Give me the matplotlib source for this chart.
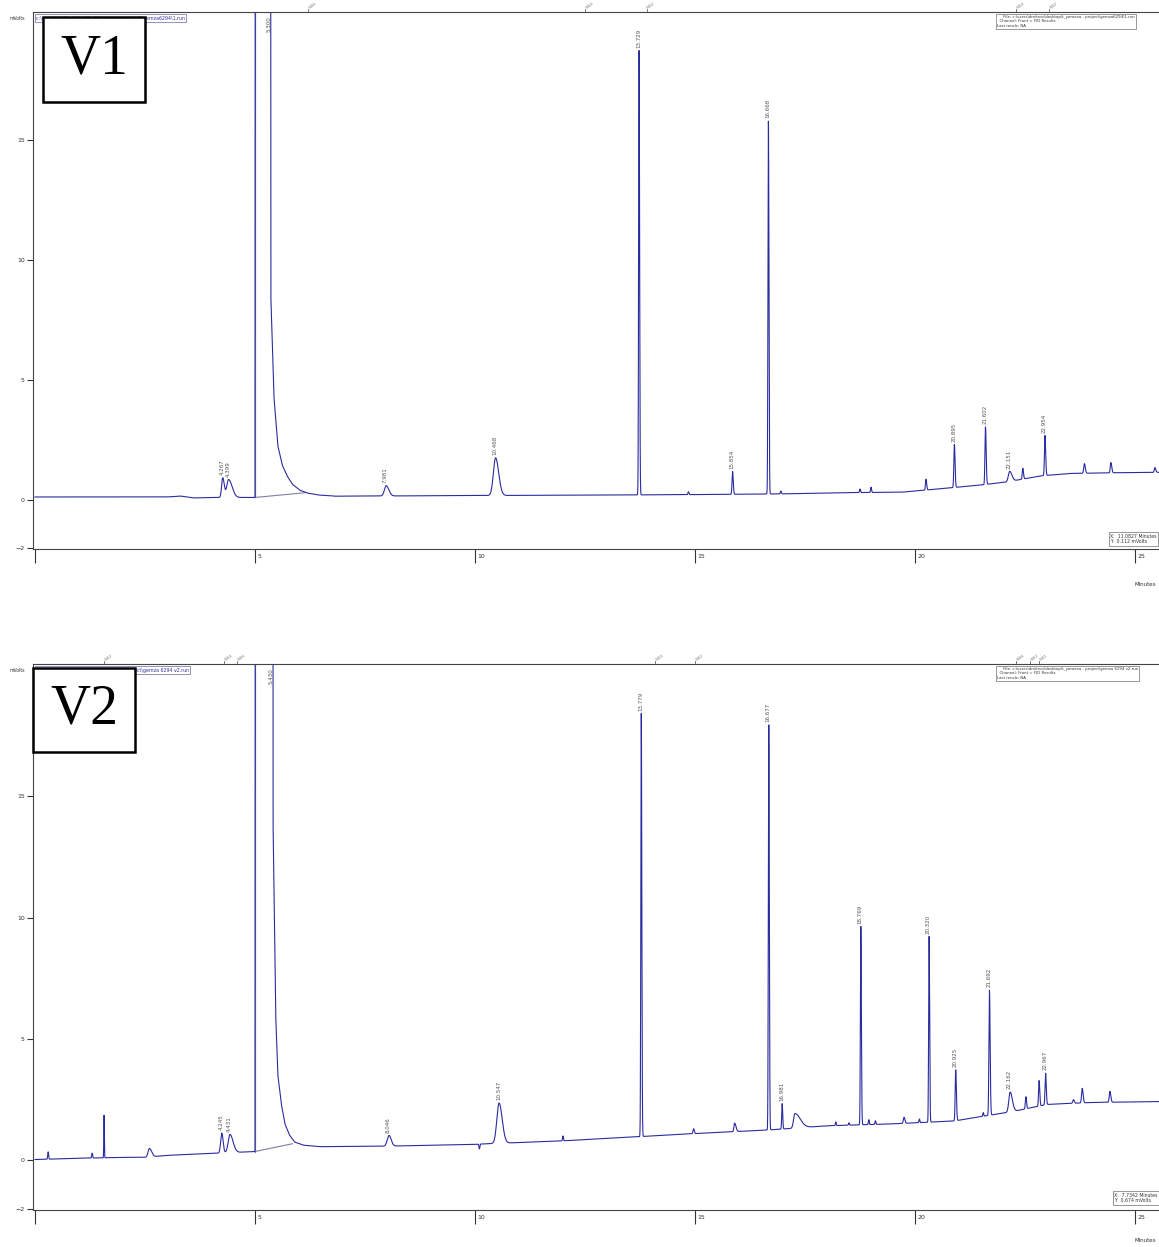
import numpy as np
import matplotlib.pyplot as plt
from matplotlib.patches import Rectangle
from matplotlib.transforms import ScaledTranslation

# ---- V1 data (minutes, mVolts) ----
base1_t = [0, 3.0, 3.3, 3.6, 4.0, 5.0, 6.5, 10, 13, 15, 17, 18.5, 19.7, 20.8, 21.5, 22.1, 22.85, 23.5, 24.5, 25.6]
base1_v = [0.12, 0.12, 0.16, 0.08, 0.1, 0.1, 0.15, 0.18, 0.2, 0.22, 0.25, 0.3, 0.32, 0.5, 0.62, 0.75, 1.0, 1.1, 1.13, 1.15]
peak1_t = [4.267, 4.399, 7.981, 10.468, 13.729, 14.85, 15.854, 16.668, 16.95, 18.75, 19.0,
           20.25, 20.895, 21.602, 22.151, 22.45, 22.954, 23.85, 24.45, 25.45]
peak1_h = [0.82, 0.75, 0.43, 1.57, 18.6, 0.12, 0.95, 15.55, 0.12, 0.15, 0.22,
           0.45, 1.8, 2.4, 0.42, 0.45, 1.67, 0.4, 0.43, 0.2]
peak1_wl = [0.025, 0.04, 0.04, 0.05, 0.01, 0.01, 0.012, 0.01, 0.01, 0.01, 0.01,
            0.012, 0.012, 0.012, 0.03, 0.012, 0.012, 0.015, 0.012, 0.012]
peak1_wr = [0.035, 0.08, 0.06, 0.07, 0.012, 0.012, 0.015, 0.012, 0.012, 0.012, 0.012,
            0.015, 0.015, 0.015, 0.05, 0.015, 0.015, 0.02, 0.02, 0.02]
label1_t = [4.267, 4.399, 7.981, 10.468, 13.729, 15.854, 16.668, 20.895, 21.602, 22.151, 22.954]
label1_txt = ["4.267", "4.399", "7.981", "10.468", "13.729", "15.854", "16.668", "20.895", "21.602", "22.151", "22.954"]
solv1_t = [5.0, 5.02, 5.35, 5.36, 5.43, 5.52, 5.62, 5.73, 5.85, 6.02, 6.2, 6.45, 6.8]
solv1_v = [0.1, 80, 80, 8.5, 4.3, 2.25, 1.45, 1.0, 0.65, 0.4, 0.28, 0.2, 0.16]
solv1_label = "5.300"
integ1_t = [5.0, 6.15]
integ1_v = [0.1, 0.3]
event1_t = [6.2, 12.5, 13.9, 22.3, 23.05]
event1_txt = ["W16", "W14", "W12", "W14", "W12"]

# ---- V2 data ----
base2_t = [0, 1, 2, 2.5, 3, 4, 5, 5.8, 6.5, 8, 10, 12, 13, 15, 16.7, 18, 19.5, 20.9, 21.5, 22.2, 23.0, 24, 25.6]
base2_v = [0.03, 0.08, 0.12, 0.12, 0.2, 0.28, 0.36, 0.62, 0.56, 0.58, 0.66, 0.8, 0.9, 1.1, 1.25, 1.42, 1.5, 1.62, 1.8, 2.0, 2.3, 2.38, 2.42]
peak2_t = [0.3, 1.3, 1.57, 2.6, 4.245, 4.431, 8.046, 10.1, 10.547, 12.0, 13.779, 14.97, 15.9,
           16.677, 16.981, 17.27, 18.2, 18.5, 18.769, 18.95, 19.1, 19.75, 20.1, 20.32, 20.925,
           21.55, 21.692, 22.162, 22.52, 22.82, 22.967, 23.6, 23.8, 24.43]
peak2_h = [0.3, 0.2, 1.75, 0.35, 0.82, 0.75, 0.44, -0.2, 1.66, 0.2, 17.5, 0.2, 0.35,
           16.75, 1.05, 0.6, 0.15, 0.1, 8.2, 0.2, 0.15, 0.25, 0.15, 7.65, 2.1,
           0.15, 5.15, 0.82, 0.5, 1.05, 1.3, 0.15, 0.6, 0.45]
peak2_wl = [0.01, 0.01, 0.006, 0.03, 0.025, 0.04, 0.04, 0.01, 0.05, 0.01, 0.01, 0.015, 0.015,
            0.01, 0.01, 0.03, 0.01, 0.01, 0.01, 0.01, 0.01, 0.015, 0.01, 0.01, 0.012,
            0.01, 0.012, 0.03, 0.012, 0.012, 0.012, 0.015, 0.015, 0.015]
peak2_wr = [0.01, 0.01, 0.006, 0.05, 0.03, 0.07, 0.05, 0.01, 0.07, 0.01, 0.012, 0.015, 0.03,
            0.012, 0.012, 0.12, 0.01, 0.01, 0.012, 0.01, 0.01, 0.02, 0.01, 0.012, 0.015,
            0.01, 0.015, 0.05, 0.015, 0.015, 0.015, 0.02, 0.02, 0.02]
label2_t = [4.245, 4.431, 8.046, 10.547, 13.779, 16.677, 16.981, 18.769, 20.32, 20.925, 21.692, 22.162, 22.967]
label2_txt = ["4.245", "4.431", "8.046", "10.547", "13.779", "16.677", "16.981", "18.769", "20.320",
              "20.925", "21.692", "22.162", "22.967"]
solv2_t = [5.0, 5.02, 5.40, 5.41, 5.47, 5.52, 5.6, 5.68, 5.78, 5.9, 6.1, 6.4]
solv2_v = [0.36, 80, 80, 14, 6, 3.5, 2.3, 1.5, 1.05, 0.75, 0.62, 0.57]
solv2_label = "5.430"
integ2_t = [5.0, 5.85]
integ2_v = [0.36, 0.68]
event2_t = [1.57, 4.3, 4.6, 14.1, 15.0, 22.3, 22.62, 22.82]
event2_txt = ["W12", "W14", "W16", "W14", "W12", "W16", "W12", "W11"]

TRACE = '#2b2ba0'
GREY = '#555555'


def make_trace(t, bt, bv, pt, ph, pwl, pwr, st, sv):
    y = np.interp(t, bt, bv)
    for c, h, wl, wr in zip(pt, ph, pwl, pwr):
        w = np.where(t < c, wl, wr)
        y = y + h * np.exp(-0.5 * ((t - c) / w) ** 2)
    m = (t >= st[0]) & (t <= st[-1])
    y[m] = np.maximum(y[m], np.interp(t[m], st, sv))
    return y


def draw_panel(ax, top, bt, bv, pt, ph, pwl, pwr, lt, ltxt, st, sv, slab, it, iv, et, etxt):
    t = np.arange(0, 25.6, 0.002)
    y = make_trace(t, bt, bv, pt, ph, pwl, pwr, st, sv)
    ax.plot(it, iv, color='#8080a0', lw=0.8)
    ax.plot([st[0], st[0]], [sv[0], top], color='#8080a8', lw=0.9)
    ax.plot(t, y, color=TRACE, lw=0.8)
    ax.set_xlim(-0.045, 25.545)
    ax.set_ylim(-2.05, top)

    for tt, txt in zip(lt, ltxt):
        i = int(np.argmin(np.abs(t - tt)))
        apex = y[max(i - 30, 0):i + 30].max()
        ax.annotate(txt, (tt, apex), xytext=(-0.5, 2), textcoords='offset points',
                    rotation=90, ha='center', va='bottom', fontsize=4, color=GREY)
    ax.annotate(slab, (st[3] - 0.05, top), xytext=(0, -3), textcoords='offset points',
                rotation=90, ha='center', va='top', fontsize=4, color=GREY)

    # event marks above the top spine
    tr = ax.get_xaxis_transform()
    for tt, txt in zip(et, etxt):
        ax.plot([tt, tt], [1.0, 1.005], transform=tr, color='#666666', lw=0.6, clip_on=False)
        ax.text(tt, 1.004, txt, transform=tr, rotation=35, fontsize=2.8, color='#777777',
                ha='left', va='bottom', clip_on=False)

    for side in ['top', 'left', 'bottom']:
        ax.spines[side].set_color('#444444')
        ax.spines[side].set_linewidth(0.8)
    ax.spines['right'].set_visible(False)

    ax.set_xticks([0, 5, 10, 15, 20, 25])
    ax.set_xticklabels(['', '5', '10', '15', '20', '25'])
    ax.tick_params(axis='x', direction='out', length=10, width=0.8, pad=-6.5,
                   labelsize=4.5, colors='#333333')
    for lab in ax.get_xticklabels():
        lab.set_horizontalalignment('left')
        lab.set_transform(lab.get_transform() + ScaledTranslation(1.5 / 72, 0, ax.figure.dpi_scale_trans))
    ax.set_yticks([-2, 0, 5, 10, 15])
    ax.tick_params(axis='y', direction='out', length=4, width=0.8, pad=2,
                   labelsize=4.5, colors='#333333')


fig = plt.figure(figsize=(11.59, 12.47), dpi=100)
W, H = 1159.0, 1247.0

ax1 = fig.add_axes([33 / W, 1 - 549 / H, 1126 / W, 537 / H])
draw_panel(ax1, 20.35, base1_t, base1_v, peak1_t, peak1_h, peak1_wl, peak1_wr,
           label1_t, label1_txt, solv1_t, solv1_v, solv1_label, integ1_t, integ1_v, event1_t, event1_txt)

ax2 = fig.add_axes([33 / W, 1 - 1210 / H, 1126 / W, 546 / H])
draw_panel(ax2, 20.45, base2_t, base2_v, peak2_t, peak2_h, peak2_wl, peak2_wr,
           label2_t, label2_txt, solv2_t, solv2_v, solv2_label, integ2_t, integ2_v, event2_t, event2_txt)

# header boxes and annotations
small = dict(fontsize=3.3, color='#333333')
for ytop, fname in [(13, "c:\\users\\dmitrov\\desktop\\t_yoroeva - project\\gemza6294\\1.run"),
                    (665, "c:\\users\\dmitrov\\desktop\\t_yoroeva - project\\gemza 6294 v2.run")]:
    fig.text(36 / W, 1 - (ytop + 5) / H, fname, fontsize=3.4, color='#3030a0', va='center',
             bbox=dict(boxstyle='square,pad=0.25', fc='white', ec='#8080b0', lw=0.6))
    fig.text(997 / W, 1 - (ytop + 2) / H,
             "     File: " + fname + "\n  Channel: Front = FID Results\nLast recalc: NA",
             va='top', ha='left', linespacing=1.1, fontsize=2.8, color='#333333',
             bbox=dict(boxstyle='square,pad=0.3', fc='white', ec='#888888', lw=0.6))
    fig.text(10 / W, 1 - (ytop + 5) / H, "mVolts", va='center', **small)

fig.text(1110 / W, 1 - 539 / H, "X:  11.0827 Minutes\nY:  0.112 mVolts", va='center', linespacing=1.2,
         bbox=dict(boxstyle='square,pad=0.3', fc='white', ec='#888888', lw=0.6), **small)
fig.text(1114 / W, 1 - 1198 / H, "X:  7.7342 Minutes\nY:  0.674 mVolts", va='center', linespacing=1.2,
         bbox=dict(boxstyle='square,pad=0.3', fc='white', ec='#888888', lw=0.6), **small)
fig.text(1156 / W, 1 - 585 / H, "Minutes", ha='right', va='center', fontsize=4, color='#333333')
fig.text(1156 / W, 1 - 1240 / H, "Minutes", ha='right', va='center', fontsize=4, color='#333333')

# V1 / V2 boxes
for x0, y0, x1, y1, name in [(43, 17, 145, 102, "V1"), (33, 668, 135, 752, "V2")]:
    fig.patches.append(Rectangle((x0 / W, 1 - y1 / H), (x1 - x0) / W, (y1 - y0) / H,
                                 transform=fig.transFigure, fc='white', ec='black', lw=1.8, zorder=5))
    fig.text((x0 + x1) / 2 / W, 1 - (y0 + y1) / 2 / H, name, family='Liberation Serif', fontsize=40,
             ha='center', va='center', zorder=6)

fig.savefig('out.png', dpi=100)
